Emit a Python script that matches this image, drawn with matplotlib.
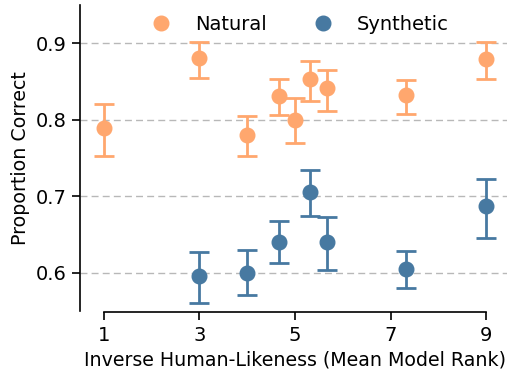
import matplotlib
matplotlib.use("Agg")
import matplotlib.pyplot as plt
from matplotlib.lines import Line2D
import numpy as np

# mean model rank (x) for each model
rank_nat = [1.0, 3.0, 4.0, 4.66, 5.0, 5.32, 5.66, 7.33, 9.0]
acc_nat = [0.789, 0.881, 0.780, 0.831, 0.800, 0.853, 0.842, 0.833, 0.880]
lo_nat = [0.752, 0.855, 0.753, 0.806, 0.769, 0.824, 0.812, 0.808, 0.853]
hi_nat = [0.821, 0.901, 0.805, 0.853, 0.829, 0.877, 0.865, 0.852, 0.901]

rank_syn = [3.0, 4.0, 4.66, 5.32, 5.66, 7.33, 9.0]
acc_syn = [0.596, 0.600, 0.640, 0.705, 0.640, 0.605, 0.687]
lo_syn = [0.560, 0.571, 0.613, 0.674, 0.604, 0.580, 0.645]
hi_syn = [0.627, 0.630, 0.667, 0.734, 0.673, 0.629, 0.723]

c_nat = "#FFA76E"
c_syn = "#4779A1"

fig = plt.figure(figsize=(5.07, 3.71), dpi=100)
ax = fig.add_axes([80 / 507, 1 - 311 / 371, 430 / 507, 306 / 371])

def draw(x, y, lo, hi, color):
    y = np.array(y)
    err = [y - np.array(lo), np.array(hi) - y]
    ax.errorbar(x, y, yerr=err, fmt="o", color=color, ms=10.5,
                elinewidth=2, capsize=7, capthick=2)

draw(rank_nat, acc_nat, lo_nat, hi_nat, c_nat)
draw(rank_syn, acc_syn, lo_syn, hi_syn, c_syn)

ax.set_xlim(0.5, 9.5)
ax.set_ylim(0.55, 0.95)
ax.set_xticks([1, 3, 5, 7, 9])
ax.set_yticks([0.6, 0.7, 0.8, 0.9])
ax.yaxis.grid(True, linestyle=(0, (5, 3)), color="#b8b8b8", linewidth=1)
ax.set_axisbelow(True)

for s in ["top", "right"]:
    ax.spines[s].set_visible(False)
ax.spines["bottom"].set_bounds(1, 9)
ax.spines["bottom"].set_position(("outward", 1))
ax.tick_params(labelsize=14, length=6, width=1.2)
ax.spines["left"].set_linewidth(1.2)
ax.spines["bottom"].set_linewidth(1.2)

ax.set_xlabel("Inverse Human-Likeness (Mean Model Rank)", fontsize=13.7)
ax.set_ylabel("Proportion Correct", fontsize=13.7)

handles = [Line2D([], [], marker="o", ls="", color=c_nat, ms=10.5),
           Line2D([], [], marker="o", ls="", color=c_syn, ms=10.5)]
ax.legend(handles, ["Natural", "Synthetic"], loc="upper center",
          bbox_to_anchor=(0.50, 1.025), ncol=2, frameon=False, fontsize=14,
          handletextpad=0.75, columnspacing=1.9)

fig.savefig("out.png", dpi=100)
